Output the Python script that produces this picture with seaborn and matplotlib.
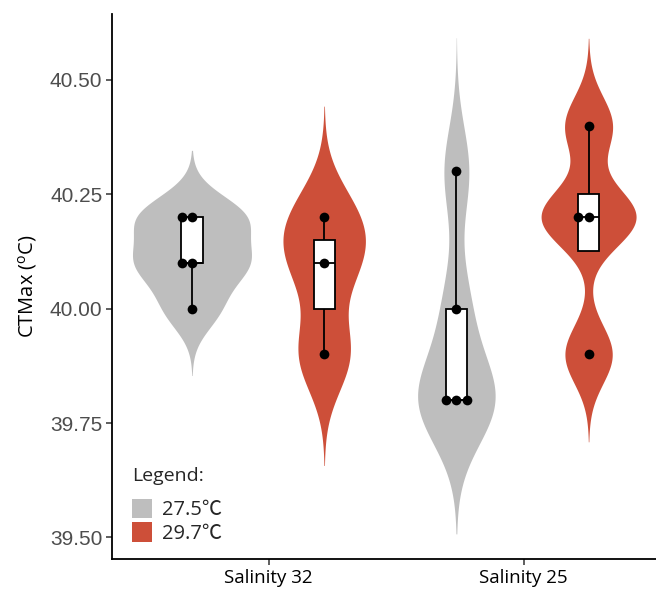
import numpy as np
import pandas as pd
import matplotlib
matplotlib.use("Agg")
import matplotlib.pyplot as plt
import seaborn as sns

# CTMax measurements per salinity / temperature treatment
salinity_labels = ["Salinity 32", "Salinity 25"]
temp_labels = ["27.5℃", "29.7℃"]
sal32_t275 = [40.0, 40.1, 40.1, 40.2, 40.2]
sal32_t297 = [39.9, 40.1, 40.2]
sal25_t275 = [39.8, 39.8, 39.8, 40.0, 40.3]
sal25_t297 = [39.9, 40.2, 40.2, 40.4]
temp_colors = ["#BEBEBE", "#CD4F39"]
y_ticks = [39.50, 39.75, 40.00, 40.25, 40.50]

rows = []
for sal, series in zip(salinity_labels,
                       [(sal32_t275, sal32_t297), (sal25_t275, sal25_t297)]):
    for temp, vals in zip(temp_labels, series):
        for v in vals:
            rows.append({"salinity": sal, "temp": temp, "group": f"{sal} {temp}", "ctmax": v})
df = pd.DataFrame(rows)
order = [f"{s} {t}" for s in salinity_labels for t in temp_labels]


def nrd0(kde):
    # Silverman's rule of thumb (R's bw.nrd0), returned as a factor of the sd
    x = np.asarray(kde.dataset).ravel()
    sd = x.std(ddof=1)
    q1, q3 = np.percentile(x, [25, 75])
    lo = min(sd, (q3 - q1) / 1.34)
    bw = 0.9 * lo * len(x) ** -0.2
    return bw / sd


sns.set_theme(style="ticks")
fig = plt.figure(figsize=(6.56, 5.98), dpi=100)
ax = fig.add_axes([112 / 656, 39 / 598, 544 / 656, 545 / 598])

sns.violinplot(data=df, x="group", y="ctmax", hue="temp", order=order,
               hue_order=temp_labels, palette=temp_colors, dodge=False,
               width=0.9, inner=None, cut=3, bw_method=nrd0, gridsize=512,
               density_norm="area", common_norm=True, linewidth=0,
               saturation=1, ax=ax)
sns.boxplot(data=df, x="group", y="ctmax", order=order, color="white",
            linecolor="black", linewidth=1.3, width=0.16, showfliers=False,
            showcaps=False, saturation=1, ax=ax)
sns.swarmplot(data=df, x="group", y="ctmax", order=order, color="black",
              size=7, ax=ax)

ax.set_xlim(-0.605, 3.51)
ax.set_ylim(39.453, 40.644)
ax.set_yticks(y_ticks)
ax.set_yticklabels([f"{t:.2f}" for t in y_ticks],
                   fontfamily="Liberation Sans", fontsize=15, color="#4D4D4D")
ax.set_xticks([0.58, 2.51])
ax.set_xticklabels(salinity_labels, fontfamily="Open Sans", fontsize=13.5,
                   color="black")
ax.set_xlabel("")
ax.set_ylabel("CTMax ($^{\\mathregular{o}}$C)", fontfamily="Open Sans",
              fontsize=14.5, color="black")
ax.yaxis.set_label_coords(-0.134, 0.5)
ax.tick_params(axis="both", length=4, width=1.1, color="#333333", pad=3)
for side in ["top", "right"]:
    ax.spines[side].set_visible(False)
for side in ["left", "bottom"]:
    ax.spines[side].set_linewidth(1.3)
    ax.spines[side].set_color("black")

handles, labels = ax.get_legend_handles_labels()
leg = ax.legend(handles[:2], labels[:2], title="Legend:", loc="lower left",
                bbox_to_anchor=(0.037, 0.0275), frameon=False, handlelength=1.0,
                handleheight=1.1, handletextpad=0.5, labelspacing=0.1,
                borderaxespad=0, borderpad=0,
                prop={"family": ["Open Sans", "Noto Sans CJK SC"], "size": 14.5})
leg.get_title().set_fontfamily("Open Sans")
leg.get_title().set_fontsize(14)
leg._legend_box.align = "left"
leg._legend_box.sep = 10

fig.savefig("out.png", dpi=100)
